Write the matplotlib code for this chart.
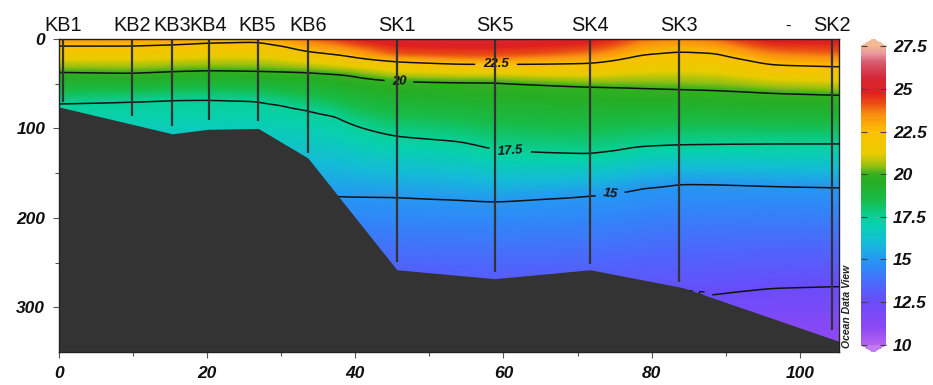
import numpy as np
import matplotlib
matplotlib.use("Agg")
import matplotlib.pyplot as plt
from matplotlib.colors import LinearSegmentedColormap, Normalize
from matplotlib.transforms import blended_transform_factory

# ---- stations: distance along section (km), cast depth (m) ----
station_names = ["KB1", "KB2", "KB3", "KB4", "KB5", "KB6",
                 "SK1", "SK5", "SK4", "SK3", "SK2"]
station_km = [0.5, 9.9, 15.3, 20.2, 26.8, 33.6, 45.6, 58.8, 71.7, 83.7, 104.4]
cast_depth = [70, 86, 97, 91, 92, 127, 249, 261, 252, 272, 325]

# ---- bottom topography ----
bottom_km = [0.0, 15.3, 20.1, 26.9, 33.6, 45.6, 58.8, 71.7, 84.2, 105.3]
bottom_depth = [76, 106, 101, 100, 133, 258, 268, 258, 278, 338]

# ---- temperature structure along the section ----
# depth (m) of each isotherm at section positions, plus surface / deep temperature
nan = float("nan")
section_km = [0.0, 9.8, 15.3, 20.1, 26.9, 30.2, 33.4, 37.9, 39.2, 45.6, 54.1,
              58.8, 64.9, 71.7, 75.3, 78.4, 83.7, 88.8, 92.8, 96.4, 105.3]
surface_temp = [23.3, 23.3, 23.4, 23.3, 23.0, 23.5, 23.9, 24.5, 24.8, 25.4, 25.5,
                25.5, 25.4, 25.1, 24.6, 23.9, 23.6, 23.9, 24.7, 25.1, 25.1]
depth_24 = [nan, nan, nan, nan, nan, nan, nan, 4.0, 7.0, 18.0, 20.0,
            20.0, 18.0, 14.0, 8.0, nan, nan, nan, 7.0, 13.0, 16.0]
depth_22_5 = [7.8, 7.8, 6.3, 4.1, 3.0, 7.8, 14.0, 18.0, 19.5, 25.3, 28.0,
              28.2, 28.0, 27.2, 23.5, 17.9, 14.2, 16.0, 23.5, 29.0, 31.0]
depth_20 = [37.3, 38.4, 36.5, 35.4, 36.2, 36.7, 37.3, 39.5, 40.5, 47.0, 48.4,
            48.4, 51.0, 53.3, 54.0, 55.0, 56.3, 57.5, 59.0, 60.5, 62.6]
depth_17_5 = [72.0, 70.0, 68.2, 67.8, 69.3, 74.0, 79.4, 87.0, 95.0, 109.0, 114.8,
              124.0, 127.0, 128.6, 125.0, 120.4, 118.5, 118.0, 117.7, 117.5, 117.4]
depth_15 = [176, 176, 176, 176, 176, 176, 176, 176, 176.5, 177, 180,
            182, 179, 175.2, 172, 167, 162, 162.5, 163.5, 164.5, 166]
depth_12_5 = [300, 300, 300, 300, 300, 300, 300, 300, 300, 300, 300,
              300, 300, 300, 298, 295, 290, 286, 282, 279, 277]
deep_temp = [10.5] * 21

isotherms = [22.5, 20.0, 17.5, 15.0, 12.5]
cbar_ticks = [10, 12.5, 15, 17.5, 20, 22.5, 25, 27.5]

# ---- colour scale (temperature -> colour) ----
cmap_temps = [10.0, 11.0, 12.5, 13.5, 14.5, 15.0, 16.0, 17.0, 17.5, 18.5, 19.5,
              20.0, 20.5, 21.2, 22.5, 23.5, 24.2, 24.8, 25.7, 26.6, 27.1, 27.5]
cmap_colors = ["#b262f0", "#8c48f4", "#6a4cfa", "#4e66fb", "#3088f8", "#2698f2",
               "#14bcd8", "#08d0b0", "#08d098", "#18bc48", "#26ae26", "#34b020",
               "#98c012", "#e8cc00", "#fcc000", "#f99010", "#ea4a14", "#e02020",
               "#d42838", "#d85a70", "#e898a0", "#f2b292"]

TMIN, TMAX = 10.0, 27.5
XMAX, ZMAX = 105.3, 350.0

label_font = ["Liberation Sans", "DejaVu Sans"]


def smooth(a, sigma, axis):
    r = int(3 * sigma)
    k = np.exp(-0.5 * (np.arange(-r, r + 1) / sigma) ** 2)
    k /= k.sum()
    pad = [(0, 0), (0, 0)]
    pad[axis] = (r, r)
    ap = np.pad(a, pad, mode="edge")
    return np.apply_along_axis(lambda v: np.convolve(v, k, mode="valid"), axis, ap)


# ---- grid the section ----
x_grid = np.linspace(0, XMAX, 422)
z_grid = np.linspace(0, ZMAX, 351)
profiles = np.empty((len(z_grid), len(section_km)))
for j in range(len(section_km)):
    kz = [0.0]
    kt = [surface_temp[j]]
    if not np.isnan(depth_24[j]):
        kz.append(depth_24[j])
        kt.append(24.0)
    kz += [depth_22_5[j], depth_20[j], depth_17_5[j], depth_15[j], depth_12_5[j], ZMAX]
    kt += [22.5, 20.0, 17.5, 15.0, 12.5, deep_temp[j]]
    profiles[:, j] = np.interp(z_grid, kz, kt)
field = np.array([np.interp(x_grid, section_km, row) for row in profiles])
field = smooth(field, 4.0, axis=1)
field = smooth(field, 1.5, axis=0)

cmap = LinearSegmentedColormap.from_list(
    "odv", [((t - TMIN) / (TMAX - TMIN), c) for t, c in zip(cmap_temps, cmap_colors)], N=512)
cmap.set_over("#f4ba98")
cmap.set_under("#c07cf0")
norm = Normalize(TMIN, TMAX)

# ---- figure ----
fig = plt.figure(figsize=(9.33, 3.85), dpi=100)
ax = fig.add_axes([59 / 933, 1 - 352 / 385, 780 / 933, 313 / 385])

mesh = ax.pcolormesh(x_grid, z_grid, field, cmap=cmap, norm=norm,
                     shading="gouraud", rasterized=True, zorder=1)

cs = ax.contour(x_grid, z_grid, field, levels=sorted(isotherms),
                colors="#111111", linewidths=1.1, zorder=2)
label_spots = [(85.4, 288), (74.4, 173), (60.9, 126), (45.9, 47), (59.0, 28)]
clabels = ax.clabel(cs, fmt="%g", fontsize=9.5, inline=True, inline_spacing=6,
                    manual=label_spots)
for t in clabels:
    t.set_fontstyle("italic")
    t.set_fontweight("bold")
    t.set_family(label_font)
    t.set_color("#111111")
    t.set_zorder(2.6)

# station casts
for xs, d in zip(station_km, cast_depth):
    ax.plot([xs, xs], [0, d], color="#333333", lw=1.6, zorder=2.8,
            solid_capstyle="butt")

# bottom
ax.fill_between(bottom_km, bottom_depth, ZMAX + 5, color="#333333",
                lw=0, zorder=4)

ax.set_xlim(0, XMAX)
ax.set_ylim(ZMAX, 0)

ax.set_xticks([0, 20, 40, 60, 80, 100])
ax.set_xticks(np.arange(10, 101, 20), minor=True)
ax.set_yticks([0, 100, 200, 300])
ax.set_yticks([50, 150, 250], minor=True)
ax.tick_params(which="both", direction="out", color="#555555", width=0.8)
ax.tick_params(which="major", length=4)
ax.tick_params(which="minor", length=3)
ax.tick_params(axis="x", pad=6)
ax.tick_params(axis="y", pad=6)
for lab in ax.get_xticklabels() + ax.get_yticklabels():
    lab.set_family(label_font)
    lab.set_fontstyle("italic")
    lab.set_fontweight("bold")
    lab.set_fontsize(12.5)
    lab.set_color("#111111")
for sp in ax.spines.values():
    sp.set_color("#222222")
    sp.set_linewidth(1.0)
    sp.set_zorder(5)

# station names above the section
trans = blended_transform_factory(ax.transData, ax.transAxes)
for name, xs in zip(station_names, station_km):
    ax.text(xs, 1 + 8 / 313, name, transform=trans, ha="center", va="baseline",
            fontsize=14.3, family=label_font, color="#111111")
ax.text(98.4, 1 + 8 / 313, "-", transform=trans, ha="center", va="baseline",
        fontsize=12, family=label_font, color="#111111")

# colour bar
cax = fig.add_axes([861 / 933, 1 - 352 / 385, 25 / 933, 313 / 385])
cb = fig.colorbar(mesh, cax=cax, extend="both", extendfrac=0.025,
                  ticks=cbar_ticks)
cb.outline.set_visible(False)
cb.set_ticklabels([f"{v:g}" for v in cbar_ticks])
cax.tick_params(direction="in", length=4, width=0.8, color="#444444",
                left=True, right=True, pad=5)
for lab in cax.get_yticklabels():
    lab.set_family(label_font)
    lab.set_fontstyle("italic")
    lab.set_fontweight("bold")
    lab.set_fontsize(12.5)
    lab.set_color("#111111")

fig.text(847 / 933, 1 - 348 / 385, "Ocean Data View", rotation=90,
         ha="center", va="bottom", fontsize=7.5, fontstyle="italic",
         fontweight="bold", family=label_font, color="#222222")

fig.savefig("out.png", dpi=100)
